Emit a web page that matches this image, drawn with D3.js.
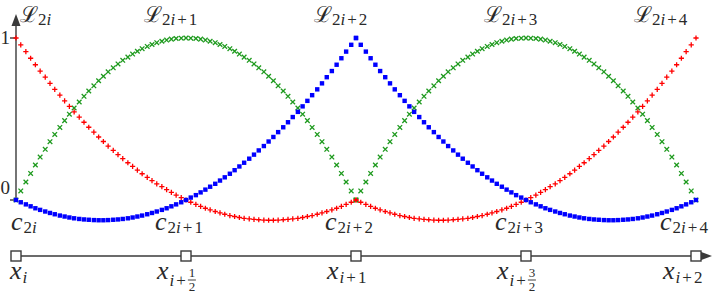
<!DOCTYPE html>
<html>
<head>
<meta charset="utf-8">
<script src="https://cdnjs.cloudflare.com/ajax/libs/d3/7.8.5/d3.min.js"></script>
<style>
  body { margin: 0; background: #fff; }
  svg { display: block; }
</style>
</head>
<body>
<div id="container"></div>
<script>
var w = 716,
    h = 297;

// local sample positions inside one element (0 = left node, 1 = right node)
var tLocal = [0, 0.014, 0.029, 0.043, 0.057, 0.071, 0.086, 0.1, 0.114, 0.129,
    0.143, 0.157, 0.171, 0.186, 0.2, 0.214, 0.229, 0.243, 0.257, 0.271,
    0.286, 0.3, 0.314, 0.329, 0.343, 0.357, 0.371, 0.386, 0.4, 0.414,
    0.429, 0.443, 0.457, 0.471, 0.486, 0.5, 0.514, 0.529, 0.543, 0.557,
    0.571, 0.586, 0.6, 0.614, 0.629, 0.643, 0.657, 0.671, 0.686, 0.7,
    0.714, 0.729, 0.743, 0.757, 0.771, 0.786, 0.8, 0.814, 0.829, 0.843,
    0.857, 0.871, 0.886, 0.9, 0.914, 0.929, 0.943, 0.957, 0.971, 0.986, 1];

// shape at the left node of an element
var shapeLeft = [1, 0.958, 0.916, 0.875, 0.835, 0.796, 0.758, 0.72, 0.683, 0.647,
    0.612, 0.578, 0.544, 0.512, 0.48, 0.449, 0.419, 0.389, 0.361, 0.333,
    0.306, 0.28, 0.255, 0.23, 0.207, 0.184, 0.162, 0.14, 0.12, 0.1,
    0.082, 0.064, 0.047, 0.03, 0.015, 0, -0.014, -0.027, -0.039, -0.051,
    -0.061, -0.071, -0.08, -0.088, -0.096, -0.102, -0.108, -0.113, -0.117, -0.12,
    -0.122, -0.124, -0.125, -0.125, -0.124, -0.122, -0.12, -0.117, -0.113, -0.108,
    -0.102, -0.096, -0.088, -0.08, -0.071, -0.061, -0.051, -0.039, -0.027, -0.014, 0];

// bubble shape at the element midpoint
var shapeMid = [0, 0.056, 0.111, 0.164, 0.216, 0.265, 0.313, 0.36, 0.405, 0.448,
    0.49, 0.53, 0.568, 0.605, 0.64, 0.673, 0.705, 0.736, 0.764, 0.791,
    0.816, 0.84, 0.862, 0.882, 0.901, 0.918, 0.934, 0.948, 0.96, 0.971,
    0.98, 0.987, 0.993, 0.997, 0.999, 1, 0.999, 0.997, 0.993, 0.987,
    0.98, 0.971, 0.96, 0.948, 0.934, 0.918, 0.901, 0.882, 0.862, 0.84,
    0.816, 0.791, 0.764, 0.736, 0.705, 0.673, 0.64, 0.605, 0.568, 0.53,
    0.49, 0.448, 0.405, 0.36, 0.313, 0.265, 0.216, 0.164, 0.111, 0.056, 0];

// shape at the right node of an element
var shapeRight = [0, -0.014, -0.027, -0.039, -0.051, -0.061, -0.071, -0.08, -0.088, -0.096,
    -0.102, -0.108, -0.113, -0.117, -0.12, -0.122, -0.124, -0.125, -0.125, -0.124,
    -0.122, -0.12, -0.117, -0.113, -0.108, -0.102, -0.096, -0.088, -0.08, -0.071,
    -0.061, -0.051, -0.039, -0.027, -0.014, 0, 0.015, 0.03, 0.047, 0.064,
    0.082, 0.1, 0.12, 0.14, 0.162, 0.184, 0.207, 0.23, 0.255, 0.28,
    0.306, 0.333, 0.361, 0.389, 0.419, 0.449, 0.48, 0.512, 0.544, 0.578,
    0.612, 0.647, 0.683, 0.72, 0.758, 0.796, 0.835, 0.875, 0.916, 0.958, 1];

var elementStart = [0, 1];
var nodes = [0, 0.5, 1, 1.5, 2];
var basisSubs = ['2i', '2i+1', '2i+2', '2i+3', '2i+4'];
var coefSubs = ['2i', '2i+1', '2i+2', '2i+3', '2i+4'];
var xSubs = ['i', 'i+1/2', 'i+1', 'i+3/2', 'i+2'];
var yTicks = [0, 1];

// drawn in this order: green under red under blue
var series = [
    { color: '#1e9a1e', marker: 'x', shapes: [shapeMid, shapeMid] },
    { color: '#ff0000', marker: '+', shapes: [shapeLeft, shapeRight] },
    { color: '#0000ff', marker: 'square', shapes: [shapeRight, shapeLeft] }
];

var svg = d3.select('#container')
    .append('svg')
    .attr('width', w)
    .attr('height', h);

var x = d3.scaleLinear().domain([0, 2]).range([16, 696]);
var y = d3.scaleLinear().domain([0, 1]).range([200, 38]);

var axisColor = '#3a3a3a',
    textColor = '#2a2a2a';

// one plain text element per glyph run, family set on the element itself
function serifText(px, py, fs, italic) {
    return svg.append('text')
        .attr('x', px)
        .attr('y', py)
        .attr('fill', textColor)
        .style('font-family', "'Times New Roman'")
        .style('font-size', fs + 'px')
        .style('font-style', italic ? 'italic' : 'normal');
}

// lay pieces side by side, returns the x after the last one
function mathRun(px, py, pieces) {
    var cx = px;
    pieces.forEach(function(p) {
        cx += p.dx || 0;
        var t = serifText(cx, py + (p.dy || 0), p.size, p.italic).text(p.t);
        cx += t.node().getComputedTextLength() + (p.after || 0);
    });
    return cx;
}

// subscript pieces: digits and '+' upright, 'i' italic, a little air round '+'
function subPieces(sub, fs, dy) {
    return sub.split('').map(function(ch) {
        return {
            t: ch, size: fs, italic: ch === 'i', dy: dy,
            dx: ch === '+' ? 2 : 0, after: ch === '+' ? 2 : 0
        };
    });
}

// ---- axes ----
var axisY = 256;

svg.append('line')
    .attr('x1', x(0)).attr('x2', x(2) + 5)
    .attr('y1', axisY).attr('y2', axisY)
    .attr('stroke', axisColor).attr('stroke-width', 1.4);
svg.append('path')
    .attr('d', 'M' + (x(2) + 16) + ',' + axisY + 'l-12,-4.5v9z')
    .attr('fill', axisColor);

svg.append('line')
    .attr('x1', x(0)).attr('x2', x(0))
    .attr('y1', y(0) + 2).attr('y2', 22)
    .attr('stroke', axisColor).attr('stroke-width', 1.4);
svg.append('path')
    .attr('d', 'M' + x(0) + ',14l-4.5,12h9z')
    .attr('fill', axisColor);

svg.selectAll('.ytick')
    .data(yTicks)
    .enter()
    .append('line')
    .attr('class', 'ytick')
    .attr('x1', x(0) - 6).attr('x2', x(0))
    .attr('y1', function(d) { return y(d); })
    .attr('y2', function(d) { return y(d); })
    .attr('stroke', axisColor).attr('stroke-width', 1.4);

yTicks.forEach(function(d) {
    serifText(10, d === 1 ? y(d) + 6 : y(d) - 6, 19, false)
        .attr('text-anchor', 'end')
        .text(d);
});

// ---- curves ----
series.forEach(function(s) {
    var pts = [];
    elementStart.forEach(function(e, ei) {
        tLocal.forEach(function(t, k) {
            pts.push({ x: e + t, y: s.shapes[ei][k] });
        });
    });

    var g = svg.append('g');
    if (s.marker === 'square') {
        g.selectAll('rect')
            .data(pts)
            .enter()
            .append('rect')
            .attr('x', function(d) { return x(d.x) - 2.2; })
            .attr('y', function(d) { return y(d.y) - 2.2; })
            .attr('width', 4.4)
            .attr('height', 4.4)
            .attr('fill', s.color);
    } else {
        var r = s.marker === 'x' ? 2.3 : 2.6;
        var path = s.marker === 'x'
            ? 'M' + (-r) + ',' + (-r) + 'L' + r + ',' + r + 'M' + (-r) + ',' + r + 'L' + r + ',' + (-r)
            : 'M' + (-r) + ',0H' + r + 'M0,' + (-r) + 'V' + r;
        g.selectAll('path')
            .data(pts)
            .enter()
            .append('path')
            .attr('transform', function(d) {
                return 'translate(' + x(d.x) + ',' + y(d.y) + ')';
            })
            .attr('d', path)
            .attr('stroke', s.color)
            .attr('stroke-width', 1.3)
            .attr('fill', 'none');
    }
});

// ---- node squares on the x axis ----
svg.selectAll('.node')
    .data(nodes)
    .enter()
    .append('rect')
    .attr('class', 'node')
    .attr('x', function(d) { return x(d) - 5; })
    .attr('y', axisY - 5)
    .attr('width', 10)
    .attr('height', 10)
    .attr('fill', '#fff')
    .attr('stroke', axisColor)
    .attr('stroke-width', 1.4);

// ---- labels ----
function labelX(i, inner, first, last) {
    if (i === 0) return x(nodes[i]) + first;
    if (i === nodes.length - 1) return x(nodes[i]) + last;
    return x(nodes[i]) + inner;
}

// basis function names on top
basisSubs.forEach(function(sub, i) {
    mathRun(labelX(i, -42, 4, -62), 22,
        [{ t: '\u2112', size: 22, italic: false }].concat(subPieces(sub, 17, 3)));
});

// coefficient names
coefSubs.forEach(function(sub, i) {
    mathRun(labelX(i, -31, -5, -36), 230,
        [{ t: 'c', size: 26, italic: true, after: 1 }].concat(subPieces(sub, 17, 3)));
});

// node names below the axis
xSubs.forEach(function(sub, i) {
    var px = labelX(i, -29, -6, -33);
    var main = [{ t: 'x', size: 26, italic: true, after: 1 }];
    var parts = sub.split('/');
    if (parts.length === 1) {
        mathRun(px, 279, main.concat(subPieces(sub, 17, 4)));
        return;
    }
    // fractional subscript: i + num/den
    var head = parts[0].slice(0, -1),
        num = parts[0].slice(-1),
        den = parts[1];
    var fx = mathRun(px, 279, main.concat(subPieces(head, 17, 7))) + 4;
    serifText(fx, 277, 13, false).attr('text-anchor', 'middle').text(num);
    serifText(fx, 291, 13, false).attr('text-anchor', 'middle').text(den);
    svg.append('line')
        .attr('x1', fx - 4).attr('x2', fx + 4)
        .attr('y1', 280).attr('y2', 280)
        .attr('stroke', textColor).attr('stroke-width', 0.9);
});
</script>
</body>
</html>
